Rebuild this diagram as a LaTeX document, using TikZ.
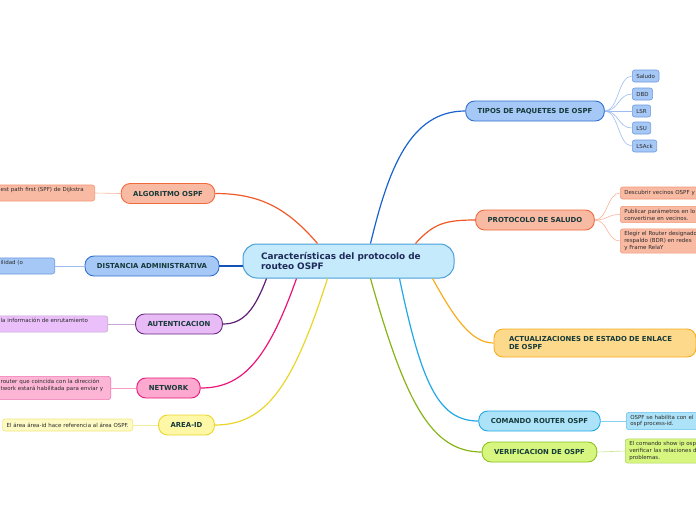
\documentclass[tikz,border=0pt]{standalone}
\usepackage{fontspec}
\setmainfont{DejaVu Sans}
\usepackage{xcolor}
\definecolor{rootfill}{HTML}{C5EAFB}
\definecolor{rootline}{HTML}{4A9FD8}
\definecolor{roottext}{HTML}{1E2A5A}
\definecolor{branchtext}{HTML}{163A3A}
\definecolor{leaftext}{HTML}{2A2A2A}
\definecolor{bluefill}{HTML}{A6C8F6}
\definecolor{blueline}{HTML}{2F6FD0}
\definecolor{bluetrunk}{HTML}{1A62D0}
\definecolor{bluetwig}{HTML}{9DBDF0}
\definecolor{salmonfill}{HTML}{F9BAA3}
\definecolor{salmonline}{HTML}{F06A3C}
\definecolor{salmontrunk}{HTML}{F05A28}
\definecolor{salmontwig}{HTML}{F9B49C}
\definecolor{orangefill}{HTML}{FDD98B}
\definecolor{orangeline}{HTML}{F7AD1E}
\definecolor{cyanfill}{HTML}{ADE3F8}
\definecolor{cyanline}{HTML}{22A8E6}
\definecolor{cyantwig}{HTML}{88D0F0}
\definecolor{greenfill}{HTML}{D6F67F}
\definecolor{greenline}{HTML}{8CC21E}
\definecolor{greentrunk}{HTML}{88B418}
\definecolor{greentwig}{HTML}{C8E890}
\definecolor{purplefill}{HTML}{E8BBF6}
\definecolor{purpleline}{HTML}{6A2C80}
\definecolor{purpletrunk}{HTML}{5E1E72}
\definecolor{purpleleaf}{HTML}{EABFFA}
\definecolor{purpletwig}{HTML}{C9A7D6}
\definecolor{pinkfill}{HTML}{FDA8CE}
\definecolor{pinkline}{HTML}{E8177B}
\definecolor{pinktrunk}{HTML}{EC147A}
\definecolor{pinktwig}{HTML}{F59CC3}
\definecolor{yellowfill}{HTML}{FEF7A6}
\definecolor{yellowline}{HTML}{EAD52A}
\definecolor{yellowleaf}{HTML}{FEFAC4}
\definecolor{yellowtwig}{HTML}{F3EB9B}
\definecolor{darkblue}{HTML}{1552B8}
\usepackage{tikz}
\usetikzlibrary{positioning}

\begin{document}
\begin{tikzpicture}[x=1pt, y=-1pt,
    root/.style={draw=rootline, fill=rootfill, line width=1pt, rounded corners=14pt,
      minimum width=211pt, minimum height=34pt, inner xsep=18pt, text width=175pt,
      align=left, text=roottext, font=\fontsize{8.9}{10.6}\selectfont\bfseries},
    branch/.style={line width=0.9pt, rounded corners=9pt, minimum height=20pt,
      inner xsep=12pt, text=branchtext, font=\fontsize{6.9}{8}\selectfont\bfseries},
    leaf/.style={line width=0.6pt, rounded corners=2.5pt, minimum height=12pt,
      inner xsep=4pt, inner ysep=2.5pt, align=left, text=leaftext,
      font=\fontsize{5.5}{6.9}\selectfont},
    trunk/.style={line width=1.2pt},
    twig/.style={line width=0.6pt}]
  \useasboundingbox (0,0) rectangle (696,520);
  \clip (0,0) rectangle (696,520);

  % centre
  \node[root] (root) at (348.5,261) {Características del protocolo de\\routeo OSPF};

  % branches on the right
  \node[branch, draw=blueline, fill=bluefill] (tipos) at (535,111) {TIPOS DE PAQUETES DE OSPF};
  \node[branch, draw=salmonline, fill=salmonfill] (saludo) at (535,220) {PROTOCOLO DE SALUDO};
  \node[branch, draw=orangeline, fill=orangefill, minimum height=28pt, inner xsep=15pt,
    text width=172pt, align=left, font=\fontsize{6.9}{7.8}\selectfont\bfseries] (actual) at (595,343)
    {ACTUALIZACIONES DE ESTADO DE ENLACE\\DE OSPF};
  \node[branch, draw=cyanline, fill=cyanfill] (comando) at (539.5,421) {COMANDO ROUTER OSPF};
  \node[branch, draw=greenline, fill=greenfill] (verif) at (539.5,452) {VERIFICACION DE OSPF};

  % branches on the left
  \node[branch, draw=salmonline, fill=salmonfill] (algo) at (168,193.5) {ALGORITMO OSPF};
  \node[branch, draw=blueline, fill=bluefill] (dist) at (152,266) {DISTANCIA ADMINISTRATIVA};
  \node[branch, draw=purpleline, fill=purplefill] (auten) at (179,324) {AUTENTICACION};
  \node[branch, draw=pinkline, fill=pinkfill] (netw) at (168.5,388) {NETWORK};
  \node[branch, draw=yellowline, fill=yellowfill] (area) at (186.5,425) {AREA-ID};

  % leaves
  \node[leaf, draw=blueline!70, fill=bluefill, anchor=west] (pksaludo) at (632,76) {Saludo};
  \node[leaf, draw=blueline!70, fill=bluefill, anchor=west] (pkdbd) at (632,94) {DBD};
  \node[leaf, draw=blueline!70, fill=bluefill, anchor=west] (pklsr) at (632,111) {LSR};
  \node[leaf, draw=blueline!70, fill=bluefill, anchor=west] (pklsu) at (632,128) {LSU};
  \node[leaf, draw=blueline!70, fill=bluefill, anchor=west] (pklsack) at (632,146) {LSAck};

  \node[leaf, draw=salmonline!70, fill=salmonfill, anchor=west, text width=100pt] (hello1) at (620,193) {Descubrir vecinos OSPF y};
  \node[leaf, draw=salmonline!70, fill=salmonfill, anchor=west, text width=100pt] (hello2) at (620,214.5) {Publicar parámetros en lo\\convertirse en vecinos.};
  \node[leaf, draw=salmonline!70, fill=salmonfill, anchor=west, text width=100pt] (hello3) at (620,241) {Elegir el Router designado\\respaldo (BDR) en redes\\y Frame RelaY};

  \node[leaf, draw=cyanline!70, fill=cyanfill, anchor=west, text width=100pt] (cmdleaf) at (626,421) {OSPF se habilita con el\\ospf process-id.};
  \node[leaf, draw=greenline!70, fill=greenfill, anchor=west, text width=100pt] (verleaf) at (625,451) {El comando show ip osp\\verificar las relaciones d\\problemas.};

  \node[leaf, draw=salmonline!70, fill=salmonfill, anchor=east, text width=90pt] (algoleaf) at (95,193) {est path first (SPF) de Dijkstra\\\phantom{x}};
  \node[leaf, draw=blueline!70, fill=bluefill, anchor=east, text width=50pt] (distleaf) at (55,266) {ilidad (o\\\phantom{x}};
  \node[leaf, draw=purpleline!40, fill=purpleleaf, anchor=east, text width=103pt] (autenleaf) at (108,324) {la información de enrutamiento\\\phantom{x}};
  \node[leaf, draw=pinkline!60, fill=pinkfill!85, anchor=east, text width=106pt] (netwleaf) at (111,388) {router que coincida con la dirección\\twork estará habilitada para enviar y\\\phantom{x}};
  \node[leaf, draw=yellowline!60, fill=yellowleaf, anchor=east] (arealeaf) at (133,425) {El área área-id hace referencia al área OSPF.};

  % trunks
  \draw[trunk, bluetrunk] ([xshift=22pt]root.north) .. controls +(18,-75) and +(-55,0) .. (tipos.west);
  \draw[trunk, salmontrunk] ([xshift=67pt]root.north) .. controls +(18,-20) and +(-30,0) .. (saludo.west);
  \draw[trunk, orangeline] ([xshift=84pt]root.south) .. controls +(22,40) and +(-22,0) .. (actual.west);
  \draw[trunk, cyanline] ([xshift=51pt]root.south) .. controls +(22,105) and +(-40,0) .. (comando.west);
  \draw[trunk, greentrunk] ([xshift=22pt]root.south) .. controls +(35,125) and +(-50,0) .. (verif.west);
  \draw[trunk, salmontrunk] ([xshift=-31pt]root.north) .. controls +(-30,-35) and +(45,0) .. (algo.east);
  \draw[trunk, darkblue] (root.west |- dist.east) -- (dist.east);
  \draw[trunk, purpletrunk] ([xshift=-82pt]root.south) .. controls +(-12,32) and +(20,0) .. (auten.east);
  \draw[trunk, pinktrunk] ([xshift=-52pt]root.south) .. controls +(-30,85) and +(40,0) .. (netw.east);
  \draw[trunk, yellowline] ([xshift=-21pt]root.south) .. controls +(-35,110) and +(50,0) .. (area.east);

  % twigs
  \foreach \leaf in {pksaludo,pkdbd,pklsr,pklsu,pklsack}
    \draw[twig, bluetwig] (tipos.east) .. controls +(14,0) and +(-14,0) .. (\leaf.west);
  \foreach \leaf in {hello1,hello2,hello3}
    \draw[twig, salmontwig] (saludo.east) .. controls +(13,0) and +(-13,0) .. (\leaf.west);
  \draw[twig, cyantwig] (comando.east) -- (cmdleaf.west);
  \draw[twig, greentwig] (verif.east) -- (verleaf.west);
  \draw[twig, salmontwig] (algo.west) -- (algoleaf.east);
  \draw[twig, bluetwig] (dist.west) -- (distleaf.east);
  \draw[twig, purpletwig] (auten.west) -- (autenleaf.east);
  \draw[twig, pinktwig] (netw.west) -- (netwleaf.east);
  \draw[twig, yellowtwig] (area.west) -- (arealeaf.east);
\end{tikzpicture}
\end{document}
